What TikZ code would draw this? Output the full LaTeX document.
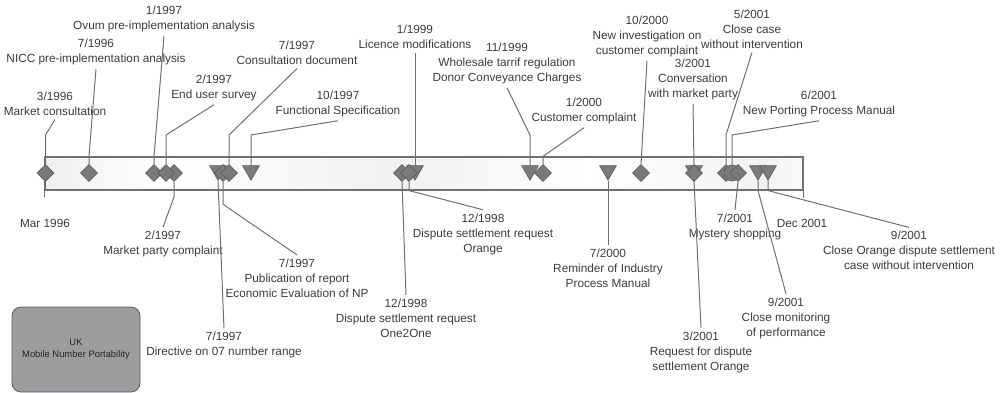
\documentclass[tikz,border=0pt]{standalone}
\usepackage{fontspec}
\setmainfont{Liberation Sans}
\usetikzlibrary{shapes.geometric}
\definecolor{inkgray}{HTML}{3C3C3C}
\definecolor{wiregray}{HTML}{707070}
\definecolor{markgray}{HTML}{7A7A7A}
\definecolor{markedge}{HTML}{5C5C5C}
\definecolor{boxgray}{HTML}{9D9D9F}
\pgfdeclarehorizontalshading{barshade}{100bp}{color(0bp)=(gray!12); color(25bp)=(gray!12);
  color(33bp)=(white); color(48.4bp)=(gray!11); color(61bp)=(white);
  color(72.2bp)=(gray!10); color(75bp)=(gray!4); color(100bp)=(gray!4)}
\tikzset{
  timebar/.style  = {draw=wiregray,line width=1.2pt,shading=barshade,
                     minimum width=758pt,minimum height=33pt,inner sep=0pt},
  evdia/.style    = {diamond,fill=markgray,draw=markedge,line width=0.6pt,
                     minimum width=17pt,minimum height=17pt,inner sep=0pt},
  evtri/.style    = {regular polygon,regular polygon sides=3,shape border rotate=180,
                     fill=markgray,draw=markedge,line width=0.6pt,
                     minimum size=19.5pt,inner sep=0pt,yshift=2.5pt},
  evdot/.style    = {circle,fill=markgray,draw=markedge,line width=0.6pt,
                     minimum size=16pt,inner sep=0pt},
  evtext/.style   = {align=center,font=\fontsize{11.8}{15}\selectfont,text=inkgray,
                     inner sep=0pt,outer ysep=4pt},
  wire/.style     = {draw=wiregray,line width=1pt},
  titlebox/.style = {rounded corners=9pt,fill=boxgray,draw=markedge,line width=0.8pt,
                     minimum width=128pt,minimum height=85pt,align=center,
                     font=\fontsize{9.4}{12}\selectfont,text=black!85}
}

\begin{document}
\begin{tikzpicture}[x=1pt,y=-1pt]
  \useasboundingbox (0,0) rectangle (1004,393);
  \node[timebar] (bar) at (424,173.5) {};
  \coordinate (hi) at (0,135);
  \coordinate (lo) at (0,197);

  \node[evdia] (m01) at (45.5,173) {};
  \node[evdia] (m02) at (89,173)   {};
  \node[evdia] (m03) at (154,173)  {};
  \node[evdia] (m05) at (174,173)  {};
  \node[evdia] (m04) at (166,173)  {};
  \node[evtri] (m06) at (218,173)  {};
  \node[evdia] (m07) at (223,173)  {};
  \node[evdia] (m08) at (229,173)  {};
  \node[evtri] (m09) at (251,173)  {};
  \node[evtri] (m12) at (415,173)  {};
  \node[evdia] (m10) at (402,173)  {};
  \node[evdia] (m11) at (409,173)  {};
  \node[evtri] (m13) at (530,173)  {};
  \node[evdia] (m14) at (543,173)  {};
  \node[evtri] (m15) at (608,173)  {};
  \node[evdia] (m16) at (641,173)  {};
  \node[evtri] (m17) at (694,173)  {};
  \node[evdia] (m18) at (694,173)  {};
  \node[evdia] (m19) at (726,173)  {};
  \node[evdot] (m20) at (732,173)  {};
  \node[evdia] (m21) at (738,173)  {};
  \node[evtri] (m22) at (758,173)  {};
  \node[evtri] (m23) at (768,173)  {};

  \node[evtext] (t01) at (55,103.75)  {3/1996\\Market consultation};
  \node[evtext] (t02) at (96,52.25)   {7/1996\\NICC pre-implementation analysis};
  \node[evtext] (t03) at (164,19.25)  {1/1997\\Ovum pre-implementation analysis};
  \node[evtext] (t04) at (214,87.75)  {2/1997\\End user survey};
  \node[evtext] (t05) at (297,52.75)  {7/1997\\Consultation document};
  \node[evtext] (t06) at (338,103.75) {10/1997\\Functional Specification};
  \node[evtext] (t07) at (415,36.75)  {1/1999\\Licence modifications};
  \node[evtext] (t08) at (507,63.25)  {11/1999\\Wholesale tarrif regulation\\Donor Conveyance Charges};
  \node[evtext] (t09) at (584,110.75) {1/2000\\Customer complaint};
  \node[evtext] (t10) at (647,36.25)  {10/2000\\New investigation on\\customer complaint};
  \node[evtext] (t11) at (693,79.75)  {3/2001\\Conversation\\with market party};
  \node[evtext] (t12) at (752,29.25)  {5/2001\\Close case\\without intervention};
  \node[evtext] (t13) at (819,103.75) {6/2001\\New Porting Process Manual};

  \node[evtext] (b01) at (45,223.25)  {Mar 1996};
  \node[evtext] (b02) at (163,244.25) {2/1997\\Market party complaint};
  \node[evtext] (b03) at (297,278.25) {7/1997\\Publication of report\\Economic Evaluation of NP};
  \node[evtext] (b04) at (224,345.25) {7/1997\\Directive on 07 number range};
  \node[evtext] (b05) at (406,318.25) {12/1998\\Dispute settlement request\\One2One};
  \node[evtext] (b06) at (483,234.25) {12/1998\\Dispute settlement request\\Orange};
  \node[evtext] (b07) at (608,268.25) {7/2000\\Reminder of Industry\\Process Manual};
  \node[evtext] (b08) at (701,352.25) {3/2001\\Request for dispute\\settlement Orange};
  \node[evtext] (b09) at (735,226.75) {7/2001\\Mystery shopping};
  \node[evtext] (b10) at (802,223.25) {Dec 2001};
  \node[evtext] (b11) at (786,318.25) {9/2001\\Close monitoring\\of performance};
  \node[evtext] (b12) at (909,250.75) {9/2001\\Close Orange dispute settlement\\case without intervention};

  \draw[wire] (bar.south west) -- ++(0,6);
  \draw[wire] (bar.south east) -- ++(0,7);

  \draw[wire] (m01.north) -- (m01 |- hi) -- (t01.south);
  \draw[wire] (m02.north) -- (m02 |- bar.north) -- (t02.south);
  \draw[wire] (m03.north) -- (m03 |- bar.north) -- (t03.south);
  \draw[wire] (m04.north) -- (m04 |- hi) -- (t04.south);
  \draw[wire] (m08.north) -- (m08 |- hi) -- (t05.south);
  \draw[wire] (m09.north) -- (m09 |- hi) -- (t06.south);
  \draw[wire] (m12.north) -- (t07.south);
  \draw[wire] (m13.north) -- (m13 |- hi) -- (t08.south);
  \draw[wire] (m14.north) -- (m14 |- bar.north) -- (t09.south);
  \draw[wire] (m16.north) -- (t10.south);
  \draw[wire] (m18.north) -- (t11.south);
  \draw[wire] (m19.north) -- (m19 |- hi) -- (t12.south);
  \draw[wire] (m20.north) -- (m20 |- hi) -- (t13.south);

  \draw[wire] (m05.south) -- (m05 |- lo) -- (b02.north);
  \draw[wire] (m07.south) -- ++(0,22.5) -- (b03.north);
  \draw[wire] (m06.south) -- (b04.north);
  \draw[wire] (m10.south) -- (b05.north);
  \draw[wire] (m11.south) -- (m11 |- bar.south) -- (b06.north);
  \draw[wire] (m15.south) -- (b07.north);
  \draw[wire] (m17.south) -- (b08.north);
  \draw[wire] (m21.south) -- (b09.north);
  \draw[wire] (m22.south) -- (m22 |- bar.south) -- (b11.north);
  \draw[wire] (m23.south) -- (m23 |- bar.south) -- (b12.north);

  \node[titlebox] (title) at (76,349.5) {UK\\Mobile Number Portability};
\end{tikzpicture}
\end{document}
